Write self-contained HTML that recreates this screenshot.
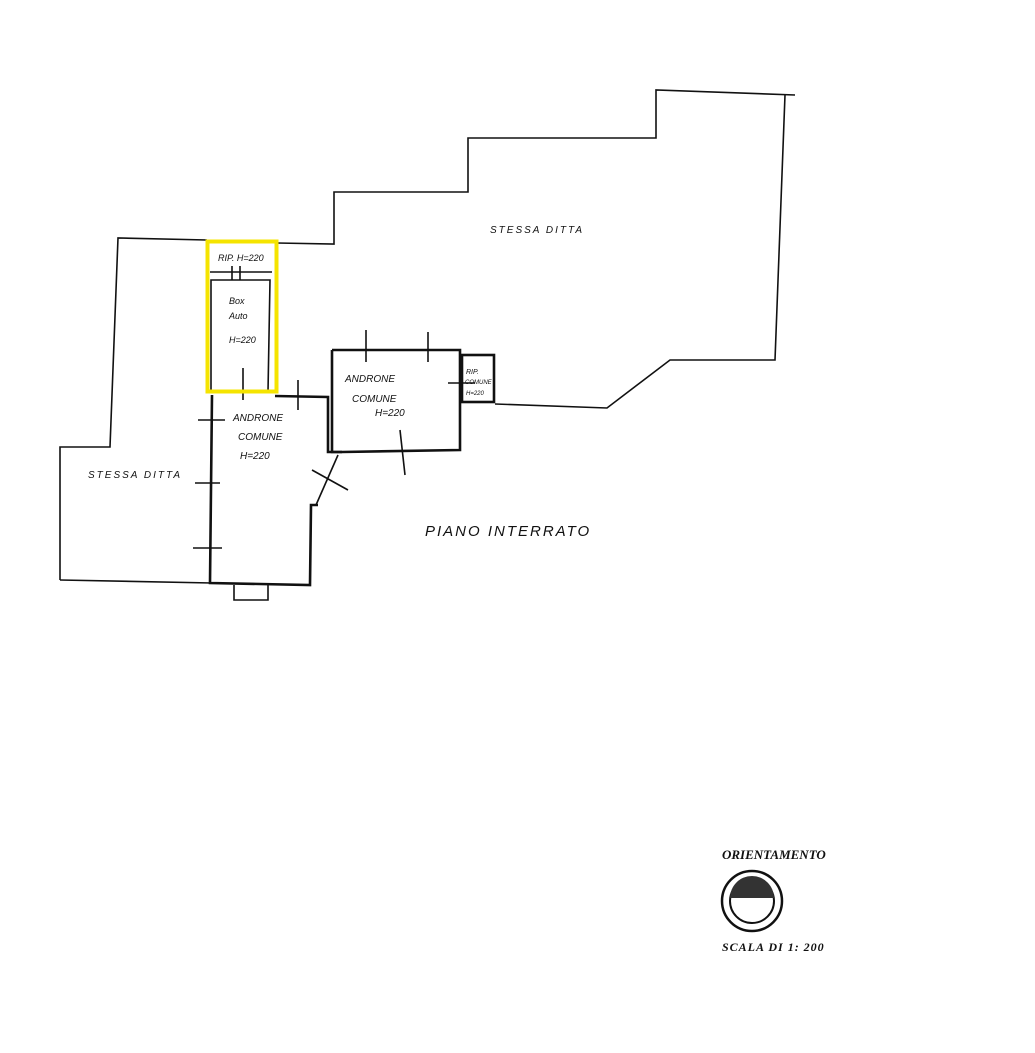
<!DOCTYPE html>
<html><head><style>
html,body{margin:0;padding:0;background:#fff;}
svg{display:block;}
text{font-family:"Liberation Sans",sans-serif;font-style:italic;fill:#111;}
</style></head><body>
<svg width="1035" height="1053" viewBox="0 0 1035 1053" xmlns="http://www.w3.org/2000/svg">
<g fill="none" stroke="#111" stroke-width="1.6">
<polyline points="60,580 60,447 110,447 118,238 207,240"/>
<polyline points="277,243 334,244 334,192 468,192 468,138 656,138 656,90 795,95"/>
<polyline points="785,95 775,360 670,360 607,408 495,404"/>
<line x1="60" y1="580" x2="212" y2="583"/>
<g stroke-width="2.6">
<polyline points="212,395 210,583 310,585 311,505 318,505"/>
<polyline points="275,396 328,397 328,452 342,452"/>
<polyline points="332,350 460,350 460,450 342,452 332,452 332,350"/>
<rect x="462" y="355" width="32" height="47"/>
</g>
<polyline points="234,585 234,600 268,600 268,585"/>
<line x1="316" y1="505" x2="338" y2="455"/>
<line x1="312" y1="470" x2="348" y2="490"/>
<line x1="400" y1="430" x2="405" y2="475"/>
<line x1="366" y1="330" x2="366" y2="362"/>
<line x1="428" y1="332" x2="428" y2="362"/>
<line x1="298" y1="380" x2="298" y2="410"/>
<line x1="243" y1="368" x2="243" y2="400"/>
<line x1="198" y1="420" x2="225" y2="420"/>
<line x1="195" y1="483" x2="220" y2="483"/>
<line x1="193" y1="548" x2="222" y2="548"/>
<line x1="448" y1="383" x2="475" y2="383"/>
<line x1="210" y1="272" x2="272" y2="272"/>
<line x1="232" y1="266" x2="232" y2="280"/>
<line x1="240" y1="266" x2="240" y2="280"/>
<polyline points="211,392 211,280 270,280 268,392"/>
</g>
<rect x="207.5" y="241.5" width="69" height="150" fill="none" stroke="#f5e400" stroke-width="4"/>
<text x="218" y="261" font-size="9">RIP. H=220</text>
<text x="229" y="304" font-size="9">Box</text>
<text x="229" y="319" font-size="9">Auto</text>
<text x="229" y="343" font-size="9">H=220</text>
<text x="233" y="421" font-size="10">ANDRONE</text>
<text x="238" y="440" font-size="10">COMUNE</text>
<text x="240" y="459" font-size="10">H=220</text>
<text x="345" y="382" font-size="10">ANDRONE</text>
<text x="352" y="402" font-size="10">COMUNE</text>
<text x="375" y="416" font-size="10">H=220</text>
<text x="466" y="374" font-size="7">RIP.</text>
<text x="465" y="384" font-size="6">COMUNE</text>
<text x="466" y="395" font-size="6">H=220</text>
<text x="490" y="233" font-size="10" letter-spacing="2">STESSA  DITTA</text>
<text x="88" y="478" font-size="10" letter-spacing="2">STESSA  DITTA</text>
<text x="425" y="536" font-size="15" letter-spacing="2">PIANO  INTERRATO</text>
<text x="722" y="859" font-size="13" font-weight="bold" style="font-family:'Liberation Serif',serif">ORIENTAMENTO</text>
<circle cx="752" cy="901" r="30" fill="none" stroke="#111" stroke-width="2.5"/>
<circle cx="752" cy="901" r="22" fill="none" stroke="#111" stroke-width="2"/>
<path d="M730,898 A22,22 0 0 1 774,898 Z" fill="#333"/>
<text x="722" y="951" font-size="12" font-weight="bold" letter-spacing="1" style="font-family:'Liberation Serif',serif">SCALA DI 1: 200</text>
</svg>
</body></html>
